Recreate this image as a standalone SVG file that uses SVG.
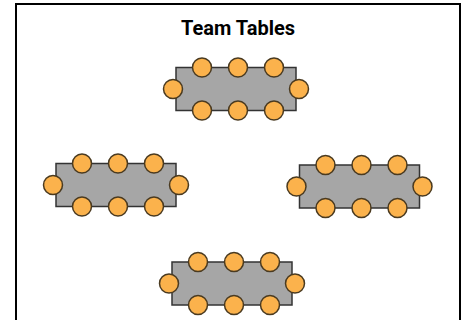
<svg xmlns="http://www.w3.org/2000/svg" xmlns:xlink="http://www.w3.org/1999/xlink" width="463" height="320" viewBox="0 0 463 320">
  <style>
    .frame { fill: #ffffff; stroke: #000000; stroke-width: 2; }
    .title { font-family: Roboto, "Liberation Sans", Arial, sans-serif; font-weight: bold; font-size: 20px; fill: #000000; text-anchor: middle; }
    .top { fill: #a6a6a6; stroke: #333333; stroke-width: 1.5; }
    .chair { fill: #fbb24c; stroke: #4a3a20; stroke-width: 1.5; }
  </style>
  <defs>
    <g id="table">
      <rect class="top" x="0" y="0" width="120" height="43"/>
      <circle class="chair" cx="26" cy="0" r="9.5"/>
      <circle class="chair" cx="62" cy="0" r="9.5"/>
      <circle class="chair" cx="98" cy="0" r="9.5"/>
      <circle class="chair" cx="26" cy="43" r="9.5"/>
      <circle class="chair" cx="62" cy="43" r="9.5"/>
      <circle class="chair" cx="98" cy="43" r="9.5"/>
      <circle class="chair" cx="-3" cy="21.5" r="9.5"/>
      <circle class="chair" cx="123" cy="21.5" r="9.5"/>
    </g>
  </defs>
  <rect class="frame" x="16" y="4" width="444" height="330"/>
  <text class="title" x="238" y="35">Team Tables</text>
  <g id="table-top" transform="translate(176,67.5)"><use xlink:href="#table" href="#table"/></g>
  <g id="table-left" transform="translate(56,163.5)"><use xlink:href="#table" href="#table"/></g>
  <g id="table-right" transform="translate(299.5,165)"><use xlink:href="#table" href="#table"/></g>
  <g id="table-bottom" transform="translate(172,262)"><use xlink:href="#table" href="#table"/></g>
  <g id="connectors"/>
</svg>
